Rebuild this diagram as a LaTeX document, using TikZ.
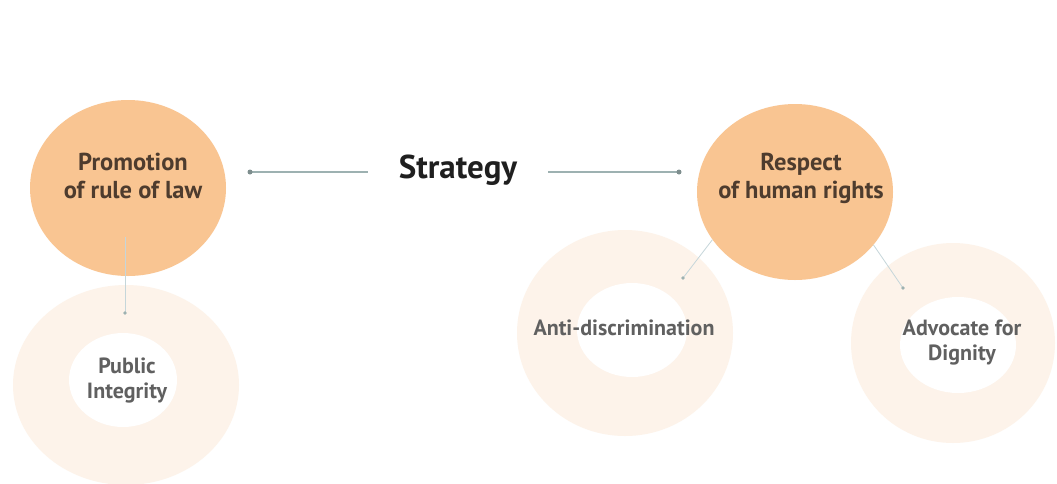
\documentclass[tikz,border=0pt]{standalone}
\usepackage{fontspec}
\setmainfont{PT Sans}
\usetikzlibrary{shapes.geometric}
\definecolor{peach}{HTML}{F9C592}
\definecolor{palepeach}{HTML}{FDF3EA}
\definecolor{linkc}{HTML}{9DB1B1}
\definecolor{faintc}{HTML}{C5D6DA}
\definecolor{browntxt}{HTML}{4E3C2E}
\definecolor{greytxt}{HTML}{606060}
\begin{document}
\begin{tikzpicture}[x=1pt,y=-1pt,
  big/.style={ellipse,fill=peach,minimum width=196pt,minimum height=176pt,inner sep=0pt},
  ring/.style={ellipse,fill=palepeach,inner sep=0pt},
  hole/.style={ellipse,fill=white,inner sep=0pt},
  bigtext/.style={align=center,text=browntxt,font=\bfseries\fontsize{24.5}{28}\selectfont},
  smalltext/.style={align=center,text=greytxt,font=\bfseries\fontsize{22}{25}\selectfont},
  link/.style={draw=linkc,line width=1.5pt},
  faint/.style={draw=faintc,line width=0.8pt}]
\useasboundingbox (0,0) rectangle (1057,483);
\fill[white] (0,0) rectangle (1057,483);

\node[ring,minimum width=226pt,minimum height=200pt] (pir) at (126,385) {};
\node[hole,minimum width=108pt,minimum height=94pt] (pih) at (123,380) {};
\node[smalltext] (pit) at (127,381) {Public\\Integrity};

\node[ring,minimum width=216pt,minimum height=206pt] (adr) at (625,333) {};
\node[hole,minimum width=110pt,minimum height=94pt] (adh) at (632,330) {};
\node[smalltext] (adt) at (624,328) {Anti-discrimination};

\node[ring,minimum width=204pt,minimum height=200pt] (dgr) at (953,343) {};
\node[hole,minimum width=116pt,minimum height=96pt] (dgh) at (958,345) {};
\node[smalltext] (dgt) at (962,343) {Advocate for\\Dignity};

\node[big] (prom) at (128,188) {};
\node[bigtext] (promt) at (133,176) {Promotion\\of rule of law};
\node[big] (resp) at (795,192) {};
\node[bigtext] (respt) at (801,178) {Respect\\of human rights};

\node[inner xsep=31pt,font=\bfseries\fontsize{33}{38}\selectfont,text=black!88] (strat) at (458,170) {Strategy};

\coordinate (ldot) at (250,172);
\coordinate (rdot) at (679,172);
\draw[link] (ldot) -- (strat.west |- ldot);
\draw[link] (strat.east |- rdot) -- (rdot);
\fill[linkc!80!black] (ldot) circle (2.5pt);
\fill[linkc!80!black] (rdot) circle (2.5pt);

\coordinate (piin) at (125,237);
\coordinate (pidot) at (125,313);
\coordinate (addot) at (683,278);
\coordinate (dgdot) at (903,288);
\draw[faint] (piin) -- (pidot);
\draw[faint] (resp.210) -- (addot);
\draw[faint] (resp.326) -- (dgdot);
\foreach \d in {pidot,addot,dgdot}
  \fill[linkc] (\d) circle (1.8pt);
\end{tikzpicture}
\end{document}
